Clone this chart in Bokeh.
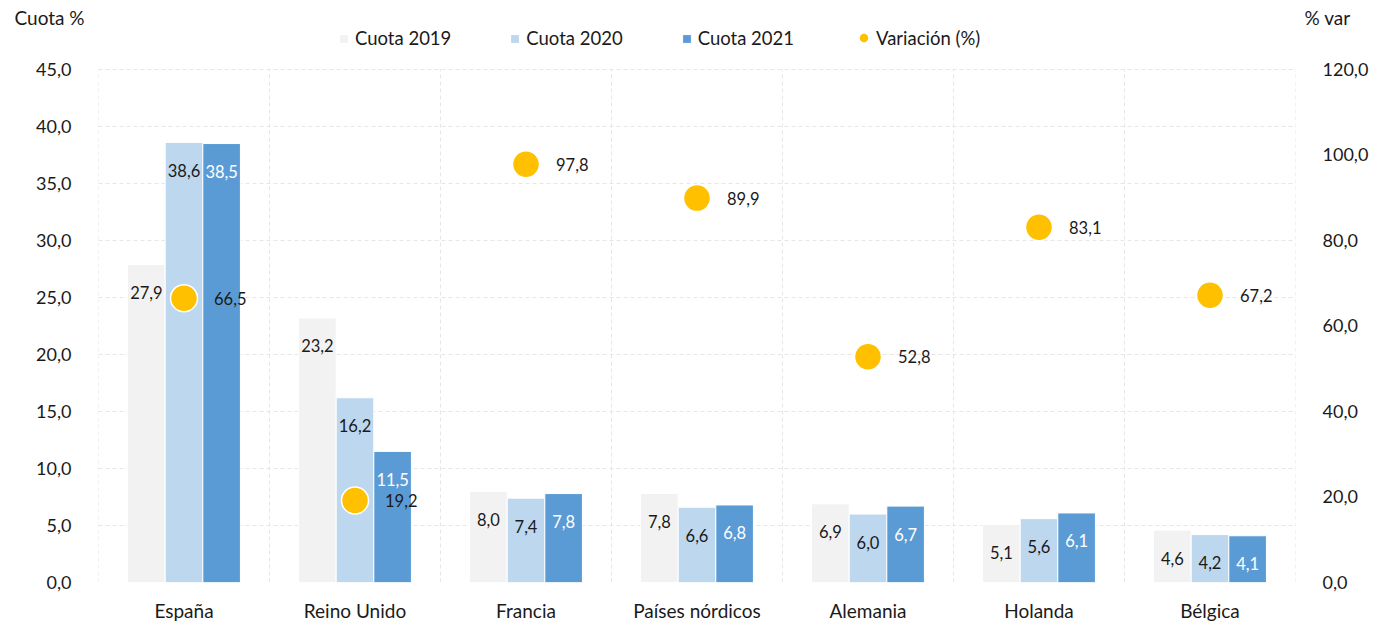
from bokeh.plotting import figure
from bokeh.layouts import column
from bokeh.models import Range1d, LinearAxis, FixedTicker, Legend, LegendItem, Label
from bokeh.embed import file_html
from bokeh.resources import INLINE
from bokeh.core.properties import value
import numpy as np

categories = ["España", "Reino Unido", "Francia", "Países nórdicos", "Alemania", "Holanda", "Bélgica"]
cuota_2019 = [27.9, 23.2, 8.0, 7.8, 6.9, 5.1, 4.6]
cuota_2020 = [38.6, 16.2, 7.4, 6.6, 6.0, 5.6, 4.2]
cuota_2021 = [38.5, 11.5, 7.8, 6.8, 6.7, 6.1, 4.1]
variacion = [66.5, 19.2, 97.8, 89.9, 52.8, 83.1, 67.2]
left_ticks = [0.0, 5.0, 10.0, 15.0, 20.0, 25.0, 30.0, 35.0, 40.0, 45.0]
right_ticks = [0.0, 20.0, 40.0, 60.0, 80.0, 100.0, 120.0]

C2019 = "#F2F2F2"
C2020 = "#BDD7EE"
C2021 = "#5B9BD5"
CDOT = "#FFC000"
FONT = "Lato"
TXT = "#1a1a1a"

W, H = 1374, 624
HEAD = 28            # header strip holding the two axis titles
BOTTOM = 41          # x-axis panel
LEFT, RIGHT = 98, 79
TOP_GAP = 69 - HEAD  # space from main figure top to the top of the value axes


def fmt(v):
    return f"{v:.1f}".replace(".", ",")


# ---------- header strip with axis titles (in its side panels) ----------
header = figure(width=W, height=HEAD, x_range=Range1d(0, 1), y_range=Range1d(0, 1),
                output_backend="svg", toolbar_location=None,
                x_axis_location=None, y_axis_location=None,
                min_border_left=LEFT, min_border_right=RIGHT,
                min_border_top=0, min_border_bottom=0)
header.grid.visible = False
header.outline_line_color = None
header.add_layout(Label(x=14, y=17, x_units="canvas", y_units="canvas", text="Cuota %",
                        text_font=FONT, text_font_size="19px", text_baseline="middle",
                        text_color=TXT), "left")
header.add_layout(Label(x=1304, y=17, x_units="canvas", y_units="canvas", text="% var",
                        text_font=FONT, text_font_size="19px", text_baseline="middle",
                        text_color=TXT), "right")

# ---------- main chart ----------
n = len(categories)
xc = np.arange(n) + 0.5
bw = 0.22
frame_h = H - HEAD - BOTTOM
frac = frame_h / (frame_h - TOP_GAP)

p = figure(width=W, height=H - HEAD, x_range=Range1d(0, n),
           y_range=Range1d(0, left_ticks[-1] * frac),
           output_backend="svg", toolbar_location=None)
p.extra_y_ranges = {"var": Range1d(0, right_ticks[-1] * frac)}
p.min_border_left = LEFT
p.min_border_right = RIGHT
p.min_border_top = 0
p.min_border_bottom = BOTTOM
p.outline_line_color = None
p.background_fill_color = "white"

# vertical dashed separators between categories, spanning the value axis only
p.segment(x0=list(range(n + 1)), y0=[left_ticks[0]] * (n + 1),
          x1=list(range(n + 1)), y1=[left_ticks[-1]] * (n + 1),
          line_color="#E6E6E6", line_dash="4 3", line_width=1)

r1 = p.vbar(x=xc - bw, top=cuota_2019, width=bw, fill_color=C2019, line_color="white", line_width=1)
r2 = p.vbar(x=xc, top=cuota_2020, width=bw, fill_color=C2020, line_color="white", line_width=1)
r3 = p.vbar(x=xc + bw, top=cuota_2021, width=bw, fill_color=C2021, line_color="white", line_width=1)

lab_kw = dict(text_align="center", text_baseline="middle", y_offset=28,
              text_font_size="16.5px", text_font=value(FONT))
p.text(x=xc - bw, y=cuota_2019, text=[fmt(v) for v in cuota_2019], text_color=TXT, **lab_kw)
p.text(x=xc, y=cuota_2020, text=[fmt(v) for v in cuota_2020], text_color=TXT, **lab_kw)
p.text(x=xc + bw, y=cuota_2021, text=[fmt(v) for v in cuota_2021], text_color="white", **lab_kw)

r4 = p.scatter(x=xc, y=variacion, y_range_name="var", size=27, fill_color=CDOT,
               line_color="white", line_width=1.5)
p.text(x=xc, y=variacion, y_range_name="var", text=[fmt(v) for v in variacion],
       x_offset=30, text_align="left", text_baseline="middle", text_font_size="16.5px",
       text_font=value(FONT), text_color=TXT)

# axes
p.xaxis.ticker = FixedTicker(ticks=list(xc))
p.xaxis.major_label_overrides = {float(x): c for x, c in zip(xc, categories)}
p.yaxis.ticker = FixedTicker(ticks=left_ticks)
p.yaxis.major_label_overrides = {t: fmt(t) for t in left_ticks}

ax_r = LinearAxis(y_range_name="var", ticker=FixedTicker(ticks=right_ticks))
ax_r.major_label_overrides = {t: fmt(t) for t in right_ticks}
p.add_layout(ax_r, "right")

for ax in [p.xaxis[0], p.yaxis[0], ax_r]:
    ax.axis_line_color = None
    ax.major_tick_line_color = None
    ax.minor_tick_line_color = None
    ax.major_label_text_font = FONT
    ax.major_label_text_font_size = "18px"
    ax.major_label_text_color = TXT
    ax.major_label_standoff = 21
p.xaxis.major_label_standoff = 10
p.xaxis.major_label_text_font_size = "19px"

# grids
p.ygrid.ticker = FixedTicker(ticks=left_ticks)
p.xgrid.visible = False
p.ygrid.grid_line_color = "#E6E6E6"
p.ygrid.grid_line_dash = "4 3"
p.ygrid.grid_line_width = 1

leg_kw = dict(orientation="horizontal", border_line_color=None, background_fill_alpha=0,
              label_text_font=FONT, label_text_font_size="18.5px", label_text_color=TXT,
              padding=0, margin=0)
legend_bars = Legend(items=[LegendItem(label="Cuota 2019", renderers=[r1]),
                            LegendItem(label="Cuota 2020", renderers=[r2]),
                            LegendItem(label="Cuota 2021", renderers=[r3])],
                     location=(240, 533), glyph_width=11, glyph_height=11, spacing=58,
                     label_standoff=6, **leg_kw)
p.add_layout(legend_bars)
legend_dot = Legend(items=[LegendItem(label="Variación (%)", renderers=[r4])],
                    location=(753, 532), glyph_width=25, glyph_height=25,
                    label_standoff=-2, **leg_kw)
p.add_layout(legend_dot)

layout = column(header, p, spacing=0)
open("out.html", "w").write(file_html(layout, INLINE))
